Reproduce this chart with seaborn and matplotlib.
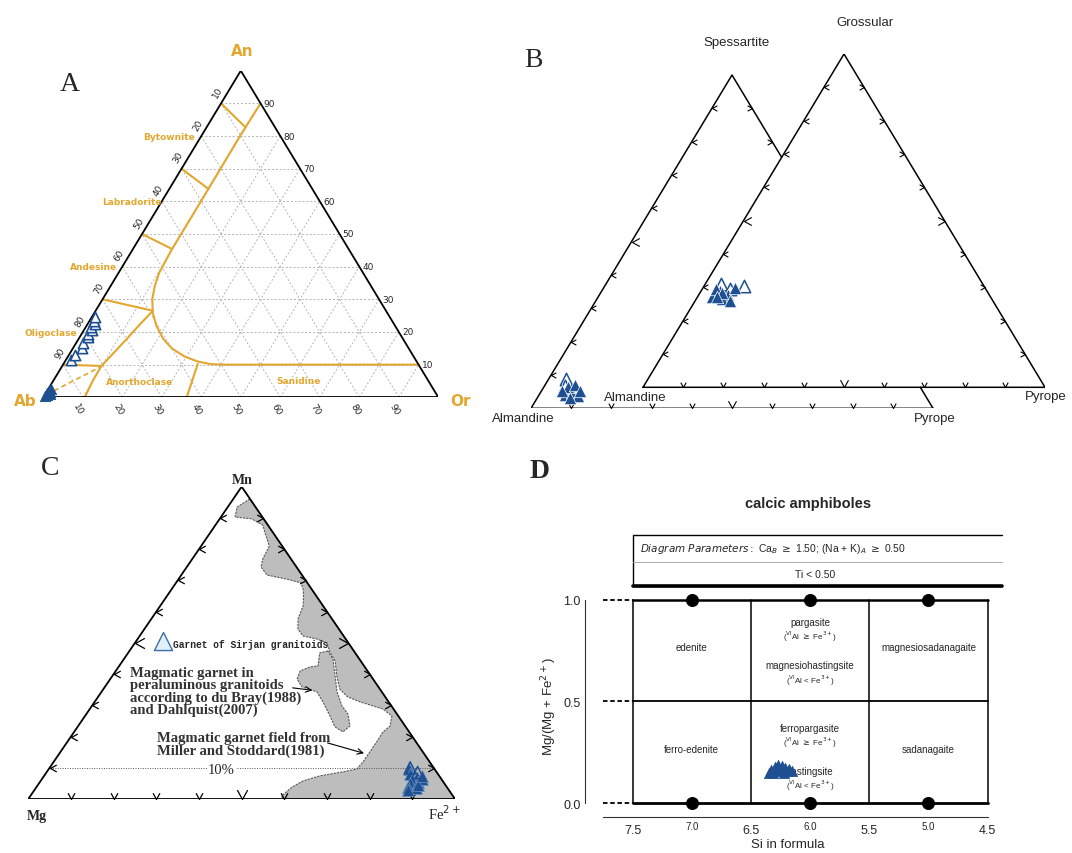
import numpy as np
import matplotlib
matplotlib.use("Agg")
import matplotlib.pyplot as plt
import seaborn as sns
from matplotlib.path import Path
from matplotlib.transforms import Affine2D

sns.set_style("white")
plt.rcParams['font.family'] = ['DejaVu Sans']

# ---------------- data ----------------
# A: feldspar An-Ab-Or (percent)
a_open_an = [11.5, 13.0, 15.0, 16.5, 18.5, 19.5, 20.5, 21.5, 22.5, 23.5, 24.5]
a_open_or = [1.3, 1.6, 2.2, 1.8, 2.0, 1.5, 2.1, 1.4, 1.8, 1.2, 0.9]
a_fill_an = [0.4, 0.8, 1.2, 1.6, 2.0, 2.4, 1.0, 19.0, 21.0, 23.0]
a_fill_or = [0.3, 0.6, 0.4, 0.8, 0.5, 0.7, 1.1, 1.9, 1.6, 1.2]

# A: field boundaries (An, Or)
curve_an = [90, 80, 60, 45, 38, 34, 30, 26, 22, 18, 15, 12.5, 11, 10.2, 10, 10]
curve_or = [10, 9.8, 9.9, 9.9, 10.3, 11.2, 12.6, 14.7, 17.6, 21.3, 25.0, 29.5, 33.5, 37.0, 40, 90]
branch_an = [26.5, 22, 17.9, 13.5, 9.5, 5, 0]
branch_or = [14.5, 13.2, 12.2, 11.0, 9.9, 10.0, 10.5]
tie_an0 = [90, 70, 50, 30, 10]
tie_an1 = [82.7, 63.8, 45.4, 26.5, 9.6]
tie_or1 = [9.8, 9.9, 9.9, 14.5, 9.9]
dash_an = [2.0, 9.4]
dash_or = [1.7, 9.9]
split_an = [10.2, 0]
split_or = [34.0, 36.3]

# B: garnet, big triangle (Grossular, Pyrope) and small triangle (Spessartite, Pyrope)
b_big_gro = [27.1, 28.9, 27.7, 29.8, 26.5, 29.5, 25.9, 28.2, 27.0]
b_big_pyr = [3.6, 4.7, 7.3, 8.0, 6.4, 3.4, 8.7, 5.5, 5.0]
b_big_open_gro = [31.0, 30.5, 29.5]
b_big_open_pyr = [4.0, 9.9, 6.8]
b_sm_sps = [4.0, 4.6, 3.7, 6.4, 7.0, 5.2, 5.2, 3.2]
b_sm_pyr = [6.5, 7.9, 9.8, 6.0, 7.4, 5.1, 9.6, 8.2]
b_sm_open_sps = [8.8, 6.8]
b_sm_open_pyr = [4.3, 5.0]

# C: Mn-Mg-Fe2+ garnet (Mn, Mg percent)
c_mn = [9.5, 8.0, 7.0, 6.0, 5.0, 4.0, 3.5, 5.5, 6.5, 4.5, 7.5, 3.0]
c_mg = [6.0, 6.5, 5.5, 7.0, 8.0, 9.0, 7.5, 6.0, 4.5, 6.5, 4.0, 9.5]
c_open_mn = [10.0, 8.5]
c_open_mg = [5.5, 4.5]

# C: Miller & Stoddard (1981) field (Mn, Mg)
field_mn = [96.1, 93.5, 90.3, 89.7, 87.7, 84.9, 81.0, 76.9, 74.3, 71.7, 70.4, 69.2, 67.2,
            65.0, 61.8, 57.6, 54.4, 52.2, 51.2, 50.0, 47.1, 44.2, 39.4, 35.2, 32.7, 31.1,
            29.8, 28.8, 26.6, 23.4, 21.5, 18.3, 15.1, 11.9, 9.6, 8.7, 7.4, 5.8, 3.8, 1.0, 0, 0]
field_mg = [0, 4.3, 6.4, 2.8, 1.2, 2.0, 3.0, 6.6, 8.3, 8.2, 4.2, 1.5, 2.0,
            3.0, 4.7, 8.0, 9.6, 9.5, 6.7, 5.0, 5.8, 6.0, 8.0, 9.4, 8.8, 6.7,
            4.3, 2.5, 1.5, 3.5, 6.1, 9.2, 12.4, 15.6, 18.2, 21.9, 28.0, 32.7, 36.3, 40.1, 40.3, 0]
# C: du Bray (1988) / Dahlquist (2007) field (Mn, Mg)
isl_mn = [47.4, 46.8, 42.6, 42.3, 41.0, 38.4, 35.9, 34.3, 31.1, 26.6, 23.1, 21.5, 23.4,
          27.2, 29.8, 34.3, 39.4, 44.8]
isl_mg = [6.1, 8.3, 10.8, 12.8, 15.8, 17.8, 17.9, 15.2, 15.4, 16.0, 16.6, 15.5, 12.9,
          11.5, 11.6, 10.5, 8.4, 6.2]

# D: calcic amphiboles
d_si = [6.33, 6.30, 6.27, 6.24, 6.21, 6.18, 6.15, 6.31, 6.26, 6.22, 6.19, 6.28, 6.35, 6.24, 6.29]
d_mg = [0.160, 0.175, 0.185, 0.180, 0.170, 0.165, 0.158, 0.150, 0.155, 0.150, 0.155, 0.165,
        0.150, 0.162, 0.170]
dot_si = [7.0, 6.0, 5.0, 7.0, 6.0, 5.0]
dot_mg = [1.0, 1.0, 1.0, 0.0, 0.0, 0.0]
si_major = [7.5, 6.5, 5.5, 4.5]
si_minor = [7.0, 6.0, 5.0]
mg_ticks = [0.0, 0.5, 1.0]

navy = "#1d4f91"
gold = "#e2a72e"

W_PX, H_PX = 1072, 854
fig = plt.figure(figsize=(W_PX / 100, H_PX / 100), dpi=100)


def px_axes(x0, y0, x1, y1):
    ax = fig.add_axes([x0 / W_PX, 1 - y1 / H_PX, (x1 - x0) / W_PX, (y1 - y0) / H_PX])
    ax.set_axis_off()
    return ax


def tern(top, right):
    # ternary (percent) -> cartesian, triangle height normalised to 1
    top = np.asarray(top, float) / 100
    right = np.asarray(right, float) / 100
    return right + top / 2, top


def chevron(angle):
    p = Path([(-0.55, 1.0), (0.0, 0.0), (0.55, 1.0)], [Path.MOVETO, Path.LINETO, Path.LINETO])
    return p.transformed(Affine2D().rotate_deg(angle))


def edge_ticks(ax, p0, p1, angle, size, fracs=None, lw=0.8):
    if fracs is None:
        fracs = np.arange(1, 10) / 10
    for f in fracs:
        x = p0[0] + (p1[0] - p0[0]) * f
        y = p0[1] + (p1[1] - p0[1]) * f
        ms = size * 1.5 if abs(f - 0.5) < 1e-6 else size
        ax.plot([x], [y], ls='none', marker=chevron(angle), ms=ms, mfc='none',
                mec='black', mew=lw, clip_on=False, zorder=4)


# ====================== A ======================
ax = px_axes(43.3, 71.7, 438.3, 398.3)
ax.set_xlim(0, 1)
ax.set_ylim(0, 1)
for v in range(10, 100, 10):
    x, y = tern([v, v], [0, 100 - v])
    ax.plot(x, y, color='#b5b5b5', lw=0.7, ls=(0, (2, 2)), zorder=1)
    x, y = tern([0, 100 - v], [v, v])
    ax.plot(x, y, color='#b5b5b5', lw=0.7, ls=(0, (2, 2)), zorder=1)
    x, y = tern([0, 100 - v], [100 - v, 0])
    ax.plot(x, y, color='#b5b5b5', lw=0.7, ls=(0, (2, 2)), zorder=1)

for an_s, or_s in [(curve_an, curve_or), (branch_an, branch_or), (split_an, split_or)]:
    x, y = tern(an_s, or_s)
    ax.plot(x, y, color=gold, lw=1.5, zorder=2)
for a0, a1, o1 in zip(tie_an0, tie_an1, tie_or1):
    x, y = tern([a0, a1], [0, o1])
    ax.plot(x, y, color=gold, lw=1.5, zorder=2)
x, y = tern(dash_an, dash_or)
ax.plot(x, y, color=gold, lw=1.2, ls=(0, (3, 2)), zorder=2)

ax.plot([0, 0.5, 1], [0, 1, 0], color='black', lw=1.3, zorder=3)
ax.plot([0, 1], [0, 0], color='black', lw=2.0, zorder=3)

for v in range(10, 100, 10):
    x, y = tern(100 - v, 0)
    ax.text(x - 0.008, y + 0.035, str(v), fontsize=6.5, rotation=60, ha='center', va='center')
    x, y = tern(v, 100 - v)
    ax.text(x + 0.008, y, str(v), fontsize=6.5, ha='left', va='center')
    x, y = tern(0, v)
    ax.text(x - 0.011, y - 0.036, str(v), fontsize=6.5, rotation=-60, ha='center', va='center')

for name, xx, yy, ha in [("Bytownite", 0.385, 0.80, 'right'), ("Labradorite", 0.300, 0.601, 'right'),
                         ("Andesine", 0.187, 0.402, 'right'), ("Oligoclase", 0.085, 0.197, 'right'),
                         ("Anorthoclase", 0.245, 0.047, 'center'), ("Sanidine", 0.645, 0.05, 'center')]:
    ax.text(xx, yy, name, color=gold, fontsize=6.5, fontweight='bold', ha=ha, va='center')
ax.text(0.503, 1.063, "An", color=gold, fontsize=11, fontweight='bold', ha='center', va='center')
ax.text(-0.046, -0.011, "Ab", color=gold, fontsize=11, fontweight='bold', ha='center', va='center')
ax.text(1.055, -0.011, "Or", color=gold, fontsize=11, fontweight='bold', ha='center', va='center')
ax.text(0.068, 0.96, "A", fontsize=20, family='Liberation Serif', ha='center', va='center')

x, y = tern(a_fill_an, a_fill_or)
sns.scatterplot(x=x, y=y, marker='^', s=55, color=navy, edgecolor=navy, linewidth=0.6,
                ax=ax, zorder=5, clip_on=False)
x, y = tern(a_open_an, a_open_or)
sns.scatterplot(x=x, y=y, marker='^', s=55, color='white', edgecolor=navy, linewidth=1.2,
                ax=ax, zorder=6, clip_on=False)

# ====================== B ======================
ax = px_axes(531, 55, 1045, 409.3)
ox, oy = 112 / 402, 21 / 333.3
ax.set_xlim(0, 1 + ox)
ax.set_ylim(0, 1 + oy)
s1 = ox - 0.5 * oy
s2 = 1 - oy
# small (Almandine-Pyrope-Spessartite) triangle
ax.plot([1, 0, 0.5, 0.5 + 0.5 * s1], [0, 0, 1, 1 - s1], color='black', lw=1.1)
ax.plot([0.5 + 0.5 * s2, 1], [1 - s2, 0], color='black', lw=1.1)
# big (Almandine-Pyrope-Grossular) triangle
ax.plot([ox, ox + 1, ox + 0.5, ox], [oy, oy, oy + 1, oy], color='black', lw=1.1)
edge_ticks(ax, (0, 0), (1, 0), 0, 7)
edge_ticks(ax, (0, 0), (0.5, 1), -90, 7)
edge_ticks(ax, (0.5, 1), (1, 0), 90, 7, fracs=[0.1, 0.2])
edge_ticks(ax, (ox, oy), (ox + 1, oy), 0, 7)
edge_ticks(ax, (ox, oy), (ox + 0.5, oy + 1), -90, 7)
edge_ticks(ax, (ox + 0.5, oy + 1), (ox + 1, oy), 90, 7)

bfont = dict(family='Liberation Sans', fontsize=9.5, ha='center', va='center')
ax.text(0.511, 1.098, "Spessartite", **bfont)
ax.text(0.831, 1.158, "Grossular", **bfont)
ax.text(0.259, 0.033, "Almandine", **bfont)
ax.text(-0.02, -0.028, "Almandine", **bfont)
ax.text(1.005, -0.028, "Pyrope", **bfont)
ax.text(1.281, 0.037, "Pyrope", **bfont)
ax.text(0.005, 1.048, "B", fontsize=20, family='Liberation Serif', ha='center', va='center')

x, y = tern(b_big_gro, b_big_pyr)
sns.scatterplot(x=x + ox, y=y + oy, marker='^', s=80, color=navy, edgecolor='white',
                linewidth=0.5, ax=ax, zorder=5)
x, y = tern(b_big_open_gro, b_big_open_pyr)
sns.scatterplot(x=x + ox, y=y + oy, marker='^', s=80, color='white', edgecolor=navy,
                linewidth=1.1, ax=ax, zorder=4)
x, y = tern(b_sm_sps, b_sm_pyr)
sns.scatterplot(x=x, y=y, marker='^', s=80, color=navy, edgecolor='white',
                linewidth=0.5, ax=ax, zorder=5)
x, y = tern(b_sm_open_sps, b_sm_open_pyr)
sns.scatterplot(x=x, y=y, marker='^', s=80, color='white', edgecolor=navy,
                linewidth=1.1, ax=ax, zorder=4)

# ====================== C ======================
ax = px_axes(28.3, 487.7, 455, 800)
ax.set_xlim(0, 1)
ax.set_ylim(0, 1)
fe = 100 - np.array(field_mn) - np.array(field_mg)
x, y = tern(field_mn, fe)
ax.fill(x, y, facecolor='#bdbdbd', edgecolor='#5a5a5a', lw=0.8, ls=(0, (2, 1)), zorder=1)
fe = 100 - np.array(isl_mn) - np.array(isl_mg)
x, y = tern(isl_mn, fe)
ax.fill(x, y, facecolor='#bdbdbd', edgecolor='#5a5a5a', lw=0.8, ls=(0, (2, 1)), zorder=1)

x, y = tern([10, 10], [0, 90])
ax.plot(x, y, color='#555555', lw=0.7, ls=(0, (1, 1.5)), zorder=2)
ax.text(0.453, 0.095, "10%", fontsize=10.5, family='Liberation Serif', ha='center', va='center',
        bbox=dict(facecolor='white', edgecolor='none', pad=0.5), zorder=3)

ax.plot([0, 1, 0.5, 0], [0, 0, 1, 0], color='black', lw=1.3, zorder=3)
edge_ticks(ax, (0, 0), (1, 0), 0, 9, lw=0.9)
edge_ticks(ax, (0, 0), (0.5, 1), -90, 9, lw=0.9)
edge_ticks(ax, (0.5, 1), (1, 0), 90, 9, lw=0.9)

cfont = dict(family='Liberation Serif')
ax.text(0.051, 1.062, "C", fontsize=20, ha='center', va='center', **cfont)
ax.text(0.5025, 1.022, "Mn", fontsize=10, fontweight='bold', ha='center', va='center', **cfont)
ax.text(0.02, -0.054, "Mg", fontsize=10, fontweight='bold', ha='center', va='center', **cfont)
ax.text(0.975, -0.045, r"Fe$^{2+}$", fontsize=10.5, ha='center', va='center', **cfont)

ax.scatter([0.315], [0.507], marker='^', s=170, facecolor='#e2f0fa', edgecolor='#3b6fa8',
           linewidth=1.0, zorder=4)
ax.text(0.339, 0.496, "Garnet of Sirjan granitoids", fontsize=6.9, family='Liberation Mono',
        fontweight='bold', ha='left', va='center', zorder=4)
ax.text(0.2385, 0.427, "Magmatic garnet in\nperaluminous granitoids\naccording to du Bray(1988)\n"
        "and Dahlquist(2007)", fontsize=10.5, fontweight='bold', color='#333333', ha='left',
        va='top', linespacing=0.92, **cfont)
ax.annotate("", xy=(0.672, 0.347), xytext=(0.613, 0.357),
            arrowprops=dict(arrowstyle='->', color='black', lw=0.8))
ax.text(0.301, 0.218, "Magmatic garnet field from\nMiller and Stoddard(1981)", fontsize=10.5,
        fontweight='bold', color='#333333', ha='left', va='top', linespacing=0.92, **cfont)
ax.annotate("", xy=(0.793, 0.144), xytext=(0.695, 0.182),
            arrowprops=dict(arrowstyle='->', color='black', lw=0.8))

fe = 100 - np.array(c_mn) - np.array(c_mg)
x, y = tern(c_mn, fe)
sns.scatterplot(x=x, y=y, marker='^', s=75, color=navy, edgecolor='#6f95c4', linewidth=0.5,
                ax=ax, zorder=5)
fe = 100 - np.array(c_open_mn) - np.array(c_open_mg)
x, y = tern(c_open_mn, fe)
sns.scatterplot(x=x, y=y, marker='^', s=75, color='none', edgecolor=navy, linewidth=1.1,
                ax=ax, zorder=5)

# ====================== D ======================
ax = fig.add_axes([585 / W_PX, 1 - 818.3 / H_PX, (990.6 - 585) / W_PX, (818.3 - 594.6) / H_PX])
ax.set_facecolor('none')
ax.set_xlim(7.903, 4.475)
ax.set_ylim(-0.0703, 1.03)
ax.spines['top'].set_visible(False)
ax.spines['right'].set_visible(False)
ax.spines['left'].set_bounds(0, 1)
ax.spines['bottom'].set_bounds(4.5, 7.75)
for s in ['left', 'bottom']:
    ax.spines[s].set_linewidth(0.8)
    ax.spines[s].set_color('#333333')

ax.set_xticks(si_major)
ax.set_xticklabels([f"{v:.1f}" for v in si_major])
ax.set_xticks(si_minor, minor=True)
ax.set_xticklabels([f"{v:.1f}" for v in si_minor], minor=True)
ax.tick_params(axis='x', which='major', direction='in', length=7, width=1.0, labelsize=9, pad=5)
ax.tick_params(axis='x', which='minor', direction='in', length=5, width=0.8, labelsize=7, pad=3)
ax.set_yticks(mg_ticks)
ax.set_yticklabels([f"{v:.1f}" for v in mg_ticks])
ax.tick_params(axis='y', direction='in', length=5, labelsize=9, pad=3)
for lab in ax.get_xticklabels() + ax.get_xticklabels(minor=True) + ax.get_yticklabels():
    lab.set_family('Liberation Sans')
ax.set_xlabel("Si in formula", fontsize=9.5, family='Liberation Sans', labelpad=1)
ax.set_ylabel(r"Mg/(Mg + Fe$^{2+}$)", fontsize=9.5, family='Liberation Sans', labelpad=3)

for yv in mg_ticks:
    ax.plot([7.75, 7.5], [yv, yv], color='black', lw=1.3, ls=(0, (2.5, 1.5)), clip_on=False)
ax.plot([7.5, 4.5], [1, 1], color='black', lw=1.8, clip_on=False)
ax.plot([7.5, 4.5], [0.5, 0.5], color='black', lw=1.3)
ax.plot([7.5, 4.5], [0, 0], color='black', lw=2.0, clip_on=False)
for xv in si_major:
    ax.plot([xv, xv], [0, 1], color='black', lw=1.1, clip_on=False)

sns.scatterplot(x=dot_si, y=dot_mg, color='black', s=75, edgecolor='black', ax=ax,
                zorder=6, clip_on=False)

dfont = dict(family='Liberation Sans', ha='center', va='center')
ax.text(7.0, 0.768, "edenite", fontsize=7, **dfont)
ax.text(7.0, 0.268, "ferro-edenite", fontsize=7, **dfont)
ax.text(5.0, 0.768, "magnesiosadanagaite", fontsize=7, **dfont)
ax.text(5.0, 0.268, "sadanagaite", fontsize=7, **dfont)
ax.text(6.0, 0.89, "pargasite", fontsize=7, **dfont)
ax.text(6.0, 0.82, r"($^{\rm VI}$Al $\geq$ Fe$^{3+}$)", fontsize=5.8, **dfont)
ax.text(6.0, 0.678, "magnesiohastingsite", fontsize=7, **dfont)
ax.text(6.0, 0.608, r"($^{\rm VI}$Al < Fe$^{3+}$)", fontsize=5.8, **dfont)
ax.text(6.0, 0.371, "ferropargasite", fontsize=7, **dfont)
ax.text(6.0, 0.30, r"($^{\rm VI}$Al $\geq$ Fe$^{3+}$)", fontsize=5.8, **dfont)
ax.text(6.0, 0.158, "hastingsite", fontsize=7, **dfont)
ax.text(6.0, 0.088, r"($^{\rm VI}$Al < Fe$^{3+}$)", fontsize=5.8, **dfont)

sns.scatterplot(x=d_si, y=d_mg, marker='^', s=55, color=navy, edgecolor=navy, linewidth=0.5,
                ax=ax, zorder=7)

# parameter box above the diagram
ax.plot([4.381, 7.5, 7.5, 4.381], [1.318, 1.318, 1.069, 1.069], color='black', lw=1.0, clip_on=False)
ax.plot([7.5, 4.381], [1.069, 1.069], color='black', lw=2.6, clip_on=False)
ax.plot([7.5, 4.381], [1.187, 1.187], color='#aaaaaa', lw=0.7, clip_on=False)
ax.text(7.44, 1.252, r"$\it{Diagram\ Parameters:}$ Ca$_B$ $\geq$ 1.50; (Na + K)$_A$ $\geq$ 0.50",
        fontsize=7.5, family='Liberation Sans', ha='left', va='center')
ax.text(5.96, 1.128, "Ti < 0.50", fontsize=7.5, family='Liberation Sans', ha='center', va='center')
ax.text(6.02, 1.474, "calcic amphiboles", fontsize=10.5, fontweight='bold',
        family='Liberation Sans', ha='center', va='center')

fig.text(540 / W_PX, 1 - 472 / H_PX, "D", fontsize=20, fontweight='bold',
         family='Liberation Serif', ha='center', va='center')

fig.savefig("out.png", dpi=100, facecolor='white')
